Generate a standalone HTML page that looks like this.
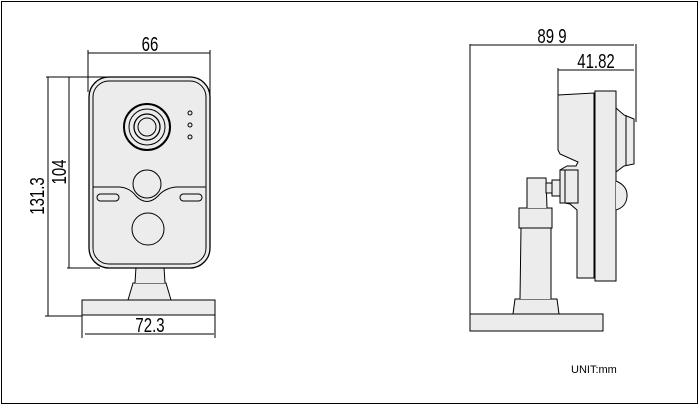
<!DOCTYPE html>
<html><head><style>
html,body{margin:0;padding:0;background:#fff;}
svg{display:block;}
text{font-family:"Liberation Sans",sans-serif;}
</style></head><body>
<svg width="700" height="406" viewBox="0 0 700 406" xmlns="http://www.w3.org/2000/svg" fill="none" stroke="#000" stroke-width="1">
<rect x="1.5" y="1.5" width="696" height="402" stroke="#000"/>
<!-- LEFT VIEW -->
<g>
<line x1="88" y1="53" x2="210" y2="53"/>
<line x1="88" y1="50" x2="88" y2="92"/>
<line x1="210" y1="50" x2="210" y2="95"/>
<text transform="translate(150,51) scale(0.75,1)" font-size="20" fill="#000" stroke="none" text-anchor="middle">66</text>
<line x1="46" y1="77" x2="190" y2="77"/>
<line x1="48" y1="77" x2="48" y2="316"/>
<line x1="45" y1="316" x2="82" y2="316"/>
<line x1="69" y1="77" x2="69" y2="268"/>
<line x1="67" y1="268" x2="100" y2="268"/>
<text transform="translate(44,196) rotate(-90) scale(0.75,1)" font-size="20" fill="#000" stroke="none" text-anchor="middle">131.3</text>
<text transform="translate(66,172) rotate(-90) scale(0.75,1)" font-size="20" fill="#000" stroke="none" text-anchor="middle">104</text>
<rect x="82" y="300" width="133" height="15" fill="#ececec"/>
<line x1="82" y1="315" x2="82" y2="338"/>
<line x1="215" y1="315" x2="215" y2="338"/>
<line x1="85" y1="334" x2="214" y2="334"/>
<text transform="translate(150,332) scale(0.75,1)" font-size="20" fill="#000" stroke="none" text-anchor="middle">72.3</text>
<path d="M128 300 L133 283 L166 283 L171 300 Z" fill="#ececec"/>
<path d="M135 283 L136 267 L164 267 L165 283" fill="#ececec"/>
<rect x="89" y="77" width="121" height="191" rx="20" fill="#ececec" stroke-width="1.3"/>
<rect x="93" y="81" width="113" height="183" rx="16" fill="#ececec"/>
<circle cx="147" cy="127" r="23" stroke-width="2"/>
<circle cx="147" cy="127" r="18"/>
<circle cx="147" cy="127" r="13" stroke-width="1.3"/>
<circle cx="147" cy="127" r="9"/>
<circle cx="190" cy="113" r="2"/>
<circle cx="190" cy="125" r="2"/>
<circle cx="190" cy="137" r="2"/>
<circle cx="147" cy="184" r="14"/>
<circle cx="148" cy="229" r="16"/>
<path d="M93 187 L120 187 Q130 188 136 196 Q147 207 158 196 Q165 188 176 187 L206 187"/>
<rect x="97" y="194" width="22" height="7" rx="3.5"/>
<rect x="180" y="194" width="22" height="7" rx="3.5"/>
</g>
<!-- RIGHT VIEW -->
<g>
<line x1="470" y1="45" x2="634" y2="45"/>
<line x1="470" y1="44" x2="470" y2="331"/>
<line x1="636" y1="44" x2="636" y2="122"/>
<text transform="translate(552,43) scale(0.75,1)" font-size="20" fill="#000" stroke="none" text-anchor="middle">89 9</text>
<line x1="558" y1="70" x2="634" y2="70"/>
<line x1="558" y1="68" x2="558" y2="100"/>
<text transform="translate(596,68) scale(0.75,1)" font-size="20" fill="#000" stroke="none" text-anchor="middle">41.82</text>
<rect x="470" y="314" width="133" height="17" fill="#ececec"/>
<path d="M513 314 L515 299 L557 299 L559 314 Z" fill="#ececec"/>
<path d="M520 299 L521 228 L551 228 L551 299" fill="#ececec"/>
<rect x="519" y="208" width="33" height="20" fill="#ececec"/>
<path d="M527 208 L527 178 L546 178 L547 208" fill="#ececec"/>
<rect x="546" y="183" width="6" height="10" fill="#ececec"/>
<rect x="552" y="180" width="8" height="16" fill="#ececec"/>
<path d="M558 95 L594 93 L594 278 L577 278 L577 210 L570 204 L560 202 L560 170 L567 166 L576 166 L578 162 L560 154 L558 150 Z" fill="#ececec"/>
<path d="M560 170 L578 170 L578 203 L560 203 Z" fill="#ececec"/>
<line x1="565" y1="170" x2="565" y2="203"/>
<rect x="595" y="91" width="21" height="190" fill="#ececec"/>
<path d="M616 108 L624 115 L634 119 L634 164 L624 166 L616 172 Z" fill="#ececec"/>
<line x1="626" y1="115" x2="626" y2="165"/>
<path d="M616 181 Q628 186 627 197 Q626 207 616 210" fill="#ececec"/>
</g>
<text x="571" y="373" font-size="11" fill="#000" stroke="none">UNIT:mm</text>
</svg>
</body></html>
